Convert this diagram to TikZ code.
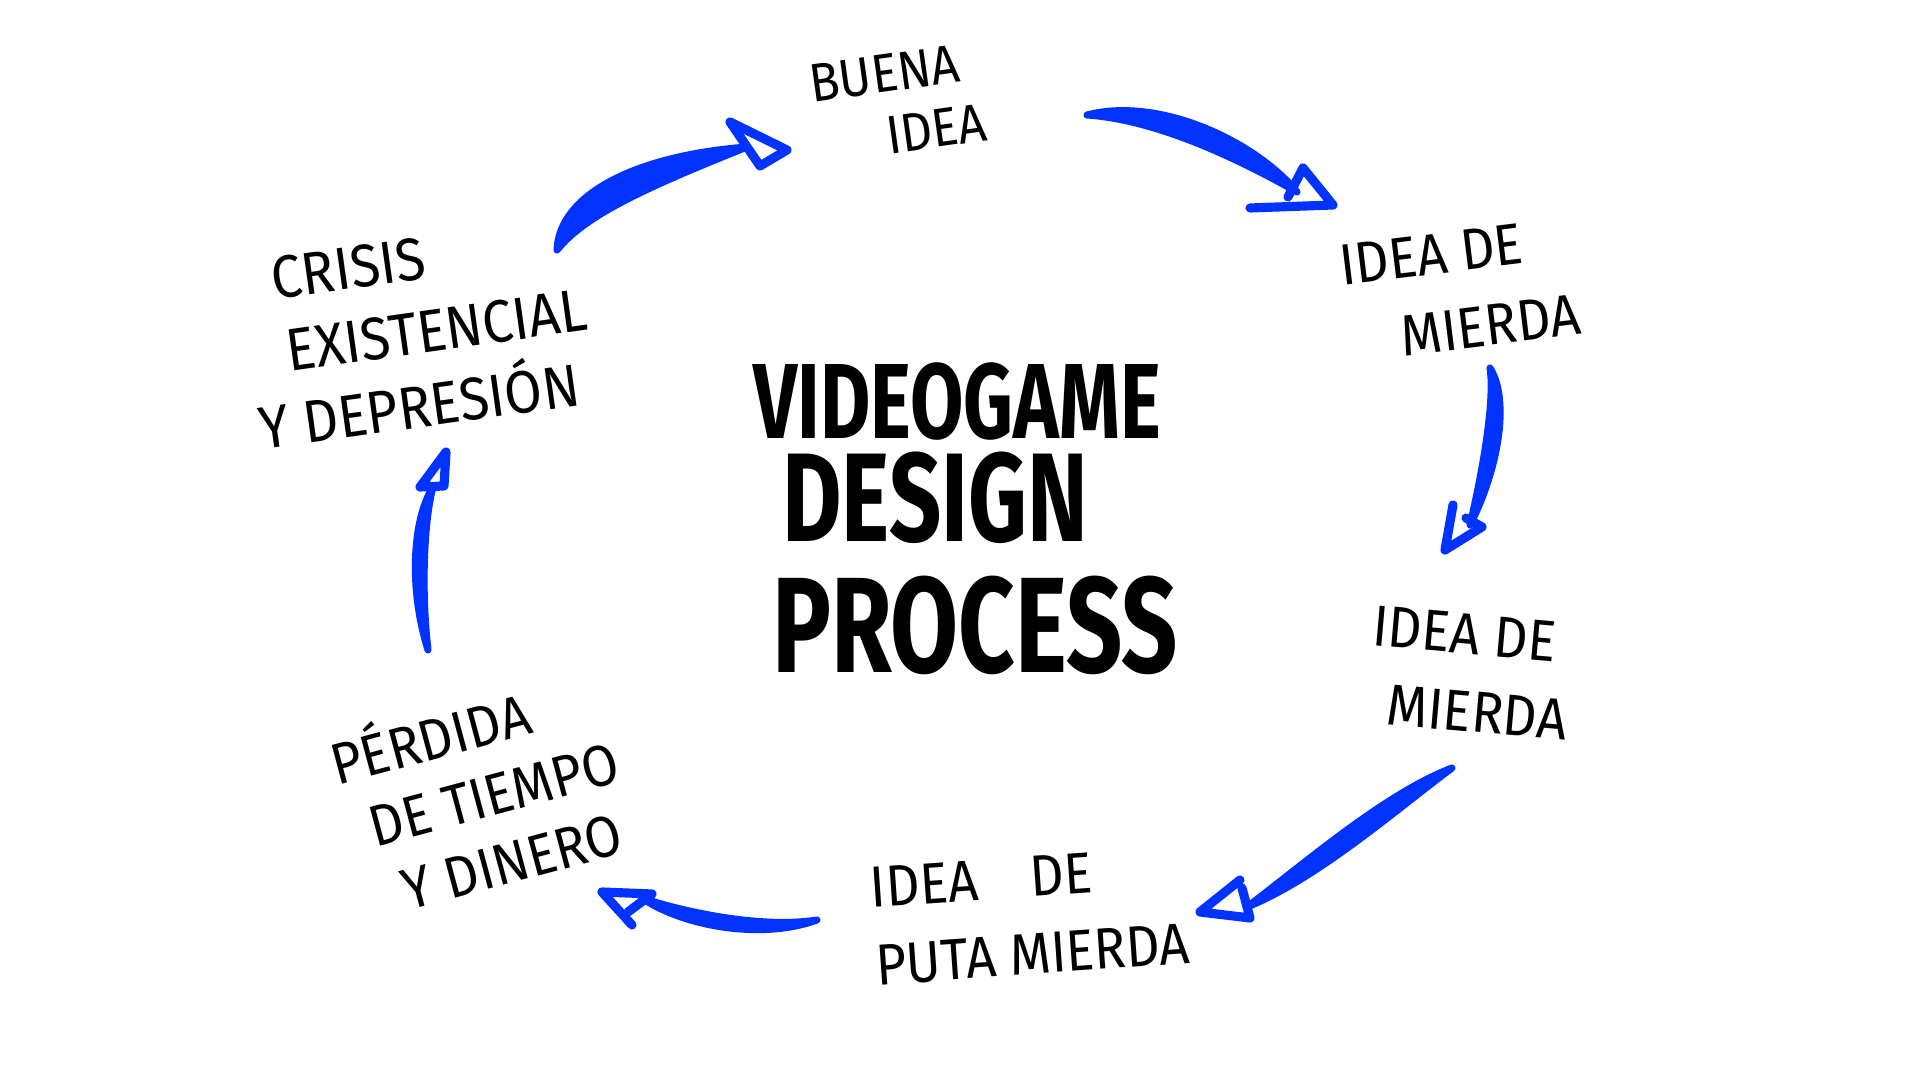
\documentclass[tikz,border=0pt]{standalone}
\usepackage{fontspec}
\setmainfont{Fira Sans}
\definecolor{penblue}{RGB}{0,51,255}
\begin{document}
\begin{tikzpicture}[x=0.01cm,y=-0.01cm,
  lbl/.style={font=\fontsize{15}{20}\selectfont, align=left, inner sep=0pt, transform shape, yscale=1.1},
  ttl/.style={font=\bfseries, inner sep=0pt, transform shape, yscale=1.38},
  shaft/.style={fill=penblue, draw=penblue, line width=2pt, line join=round, line cap=round},
  head/.style={draw=penblue, line width=2.6pt, line join=round, line cap=round}]
\useasboundingbox[fill=white] (0,0) rectangle (1920,1080);

% title
\node[ttl, font=\bfseries\fontsize{22}{26}\selectfont] (t1) at (957,402) {VIDEOGAME};
\node[ttl, font=\bfseries\fontsize{26}{30}\selectfont] (t2) at (935,498) {DESIGN};
\node[ttl, font=\bfseries\fontsize{28}{32}\selectfont] (t3) at (975,625) {PROCESS};

% labels
\node[rotate=8, lbl, font=\fontsize{14}{16}\selectfont] (buena) at (898,103) {BUENA\\\hspace*{1.4em}IDEA};
\node[rotate=7, lbl] (mierda1) at (1460,290) {IDEA DE\\\hspace*{1em}MIERDA};
\node[rotate=-5, lbl] (mierda2) at (1470,673) {IDEA DE\\\hspace*{0.4em}MIERDA};
\node[rotate=4, lbl] (puta) at (1030,916) {IDEA\quad DE\\PUTA MIERDA};
\node[rotate=15, lbl, font=\fontsize{15}{18}\selectfont] (perdida) at (482,792) {PÉRDIDA\\\hspace*{0.4em}DE TIEMPO\\\hspace*{0.7em}Y DINERO};
\node[rotate=8, lbl, font=\fontsize{15.5}{19}\selectfont] (crisis) at (418,333) {\hspace*{0.6em}CRISIS\\\hspace*{0.7em}EXISTENCIAL\\Y DEPRESIÓN};

% arrow ends
\coordinate (s1) at (557,250); \coordinate (e1) at (747,147);
\coordinate (s2) at (1087,115); \coordinate (e2) at (1297,192);
\coordinate (s3) at (1490,368); \coordinate (e3) at (1470,525);
\coordinate (s4) at (1452,768); \coordinate (e4) at (1247,907);
\coordinate (s5) at (817,920); \coordinate (e5) at (642,898);
\coordinate (s6) at (428,650); \coordinate (e6) at (433,487);

% crisis -> buena idea
\path[shaft] (s1) .. controls (559,196) and (632,156) .. (e1) .. controls (650,186) and (586,214) .. (s1) -- cycle;
\draw[head] (730,122) -- (787,150) -- (760,166) -- cycle;
% buena idea -> idea de mierda
\path[shaft] (s2) .. controls (1160,96) and (1256,142) .. (e2) .. controls (1244,162) and (1160,120) .. (s2) -- cycle;
\draw[head] (1250,208) -- (1333,205) -- (1303,168) -- (1288,197);
% idea de mierda -> idea de mierda
\path[shaft] (s3) .. controls (1495,400) and (1483,470) .. (e3) .. controls (1497,472) and (1511,402) .. (s3) -- cycle;
\draw[head] (1453,505) -- (1445,550) -- (1482,527) -- (1466,518);
% idea de mierda -> puta mierda
\path[shaft] (s4) .. controls (1386,793) and (1305,863) .. (e4) .. controls (1317,879) and (1397,809) .. (s4) -- cycle;
\draw[head] (1240,880) -- (1200,912) -- (1250,918) -- (1242,888);
% puta mierda -> perdida
\path[shaft] (s5) .. controls (760,929) and (680,911) .. (e5) .. controls (680,925) and (760,941) .. (s5) -- cycle;
\draw[head] (632,925) -- (602,892) -- (652,894) -- (628,912);
% perdida -> crisis
\path[shaft] (s6) .. controls (409,590) and (412,520) .. (e6) .. controls (424,520) and (421,590) .. (s6) -- cycle;
\draw[head] (446,452) -- (420,487) -- (444,486) -- cycle;
\end{tikzpicture}
\end{document}
